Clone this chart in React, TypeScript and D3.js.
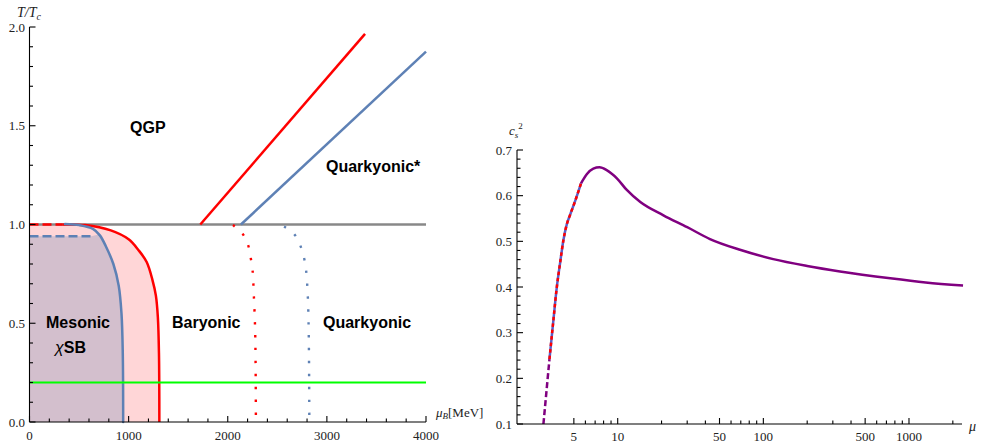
import React from 'react';
import * as d3 from 'd3';

// ---- left panel: phase diagram (mu_B in MeV, T/Tc) ----
const redBoundary: [number, number][] = [
  [330, 1.0], [560, 0.997], [820, 0.97], [1000, 0.925], [1100, 0.87], [1182, 0.81],
  [1240, 0.72], [1275, 0.64], [1295, 0.53], [1306, 0.35], [1310, 0],
];
const blueBoundary: [number, number][] = [
  [358, 1.003], [500, 0.997], [640, 0.978], [710, 0.945], [770, 0.89], [846, 0.8],
  [900, 0.69], [928, 0.55], [941, 0.35], [945, 0],
];
const redDashed: [number, number][] = [[0, 1.0], [330, 1.0]];
const blueDashed: [number, number][] = [[0, 0.94], [620, 0.94]];
const redDotted: [number, number][] = [
  [2052, 0.997], [2147, 0.955], [2205, 0.896], [2232, 0.83], [2250, 0.77],
  [2263, 0.643], [2277, 0.45], [2284, 0],
];
const blueDotted: [number, number][] = [
  [2568, 0.99], [2672, 0.95], [2730, 0.896], [2770, 0.83], [2790, 0.77],
  [2807, 0.643], [2817, 0.45], [2823, 0],
];
const redLine: [number, number][] = [[1723, 1.0], [3385, 1.965]];
const blueLine: [number, number][] = [[2133, 1.0], [4000, 1.875]];
const tcLine: [number, number][] = [[0, 1.0], [4000, 1.0]];
const greenLine: [number, number][] = [[0, 0.2], [4000, 0.2]];
const leftXTicks = [0, 1000, 2000, 3000, 4000];
const leftYTicks = [0, 0.5, 1.0, 1.5, 2.0];

// ---- right panel: speed of sound ----
const csLow: [number, number][] = [[3.09, 0.1], [3.4, 0.242]];
const csOverlay: [number, number][] = [
  [3.4, 0.242], [3.62, 0.328], [3.81, 0.397], [4.02, 0.452], [4.24, 0.503],
  [4.47, 0.537], [4.71, 0.558], [5.1, 0.588], [5.6, 0.627],
];
const csMain: [number, number][] = [
  [5.6, 0.627], [6.13, 0.647], [6.8, 0.659], [7.5, 0.662], [8.4, 0.656], [9.87, 0.638],
  [11.5, 0.613], [14.3, 0.586], [20.6, 0.557], [30, 0.531], [43, 0.505], [70, 0.481],
  [117, 0.461], [200, 0.446], [336, 0.434], [744, 0.419], [1300, 0.41], [2350, 0.403],
];
const rightXMajor = [5, 10, 50, 100, 500, 1000];
const rightXMinor = [6, 7, 8, 9, 20, 30, 40, 60, 70, 80, 90, 200, 300, 400, 600, 700, 800, 900, 2000];
const rightYTicks = [0.1, 0.2, 0.3, 0.4, 0.5, 0.6, 0.7];

const RED = '#ff0000';
const BLUE = '#5e81b5';
const PURPLE = '#800080';
const serif = 'Liberation Serif, DejaVu Serif, serif';
const sans = 'Liberation Sans, Arial, sans-serif';

export default function App() {
  const xL = d3.scaleLinear([0, 4000], [29.5, 426]);
  const yL = d3.scaleLinear([0, 2], [422, 27]);
  const xR = d3.scaleLog([2.035, 2312], [517, 962]);
  const yR = d3.scaleLinear([0.1, 0.7], [424, 150]);

  const lineL = d3.line<[number, number]>().x(d => xL(d[0])).y(d => yL(d[1]));
  const curveL = d3.line<[number, number]>().x(d => xL(d[0])).y(d => yL(d[1])).curve(d3.curveCatmullRom.alpha(0.5));
  const curveR = d3.line<[number, number]>().x(d => xR(d[0])).y(d => yR(d[1])).curve(d3.curveMonotoneX);

  // shaded regions: straight left edge, then follow the boundary curve down to T=0
  const corner = (top: number) => `M${xL(0)},${yL(0)}L${xL(0)},${yL(top)}`;
  const pinkArea = corner(1.0) + curveL(redBoundary)!.replace(/^M/, 'L') + 'Z';
  const purplePts: [number, number][] = [[620, 0.94], ...blueBoundary.filter(d => d[1] <= 0.945)];
  const purpleArea = corner(0.94) + curveL(purplePts)!.replace(/^M/, 'L') + 'Z';

  const leftMinorX = d3.range(0, 4001, 200).filter(v => v % 1000 !== 0);
  const leftMinorY = d3.range(0, 2.001, 0.1).filter(v => Math.abs(v * 2 - Math.round(v * 2)) > 1e-6);
  const rightMinorY = d3.range(0.1, 0.7001, 0.02).filter(v => Math.abs(v * 10 - Math.round(v * 10)) > 1e-6);

  return (
    <svg width={987} height={444} style={{ position: 'absolute', left: 0, top: 0, background: '#fff' }}>
      {/* left panel fills */}
      <path d={pinkArea} fill="#ffd6d7" stroke="none" />
      <path d={purpleArea} fill="#d3bfcd" stroke="none" />

      <path d={lineL(tcLine)!} stroke="#888" strokeWidth={2.5} fill="none" />
      <path d={lineL(redDashed)!} stroke={RED} strokeWidth={2.5} strokeDasharray="9 4" fill="none" />
      <path d={lineL(blueDashed)!} stroke={BLUE} strokeWidth={2.5} strokeDasharray="9 4" fill="none" />
      <path d={curveL(redBoundary)!} stroke={RED} strokeWidth={2.5} fill="none" />
      <path d={curveL(blueBoundary)!} stroke={BLUE} strokeWidth={2.5} strokeLinecap="round" fill="none" />
      <path d={curveL(redDotted)!} stroke={RED} strokeWidth={2.4} strokeDasharray="2.4 10.5" fill="none" />
      <path d={curveL(blueDotted)!} stroke={BLUE} strokeWidth={2.4} strokeDasharray="2.4 10.5" fill="none" />
      <path d={lineL(redLine)!} stroke={RED} strokeWidth={2.5} fill="none" />
      <path d={lineL(blueLine)!} stroke={BLUE} strokeWidth={2.5} fill="none" />
      <path d={lineL(greenLine)!} stroke="#00ff00" strokeWidth={2.2} fill="none" />

      {/* left axes */}
      <g stroke="#000" strokeWidth={1.1}>
        <line x1={xL(0)} x2={xL(4000)} y1={yL(0)} y2={yL(0)} />
        <line x1={xL(0)} x2={xL(0)} y1={yL(0)} y2={yL(2)} />
        {leftXTicks.map(t => <line key={'lx' + t} x1={xL(t)} x2={xL(t)} y1={yL(0)} y2={yL(0) - 6} />)}
        {leftMinorX.map(t => <line key={'lmx' + t} x1={xL(t)} x2={xL(t)} y1={yL(0)} y2={yL(0) - 3.5} />)}
        {leftYTicks.map(t => <line key={'ly' + t} x1={xL(0)} x2={xL(0) + 6} y1={yL(t)} y2={yL(t)} />)}
        {leftMinorY.map(t => <line key={'lmy' + t} x1={xL(0)} x2={xL(0) + 3.5} y1={yL(t)} y2={yL(t)} />)}
      </g>
      <g fontFamily={serif} fontSize={13} fill="#222">
        {leftXTicks.map(t => (
          <text key={'lxt' + t} x={xL(t)} y={440} textAnchor="middle">{t}</text>
        ))}
        {leftYTicks.map(t => (
          <text key={'lyt' + t} x={25} y={yL(t) + 4.5} textAnchor="end">{t.toFixed(1)}</text>
        ))}
        <text x={17} y={17} fontSize={14} fontStyle="italic">T/T<tspan fontSize={10} dy={3}>c</tspan></text>
        <text x={436} y={417} fontSize={13}>
          <tspan fontStyle="italic">μ</tspan><tspan fontStyle="italic" fontSize={9} dy={2}>B</tspan><tspan dy={-2}>[MeV]</tspan>
        </text>
      </g>

      {/* region labels */}
      <g fontFamily={sans} fontWeight="bold" fontSize={16} fill="#000">
        <text x={130} y={133}>QGP</text>
        <text x={326} y={172}>Quarkyonic*</text>
        <text x={46} y={328}>Mesonic</text>
        <text x={55} y={353}><tspan fontStyle="italic" fontWeight="normal">χ</tspan>SB</text>
        <text x={172} y={328}>Baryonic</text>
        <text x={323} y={328}>Quarkyonic</text>
      </g>

      {/* right panel curves */}
      <path d={curveR(csLow)!} stroke={PURPLE} strokeWidth={2.5} strokeDasharray="6 3" fill="none" />
      <path d={curveR(csOverlay)!} stroke="#5a5fc8" strokeWidth={2.5} fill="none" />
      <path d={curveR(csOverlay)!} stroke={RED} strokeWidth={2.5} strokeDasharray="3.5 3" fill="none" />
      <path d={curveR(csMain)!} stroke={PURPLE} strokeWidth={2.5} fill="none" />

      {/* right axes */}
      <g stroke="#000" strokeWidth={1.1}>
        <line x1={517} x2={962} y1={yR(0.1)} y2={yR(0.1)} />
        <line x1={517} x2={517} y1={yR(0.1)} y2={yR(0.7)} />
        {rightXMajor.map(t => <line key={'rx' + t} x1={xR(t)} x2={xR(t)} y1={yR(0.1)} y2={yR(0.1) - 6} />)}
        {rightXMinor.map(t => <line key={'rmx' + t} x1={xR(t)} x2={xR(t)} y1={yR(0.1)} y2={yR(0.1) - 3.5} />)}
        {rightYTicks.map(t => <line key={'ry' + t} x1={517} x2={523} y1={yR(t)} y2={yR(t)} />)}
        {rightMinorY.map(t => <line key={'rmy' + t} x1={517} x2={520.5} y1={yR(t)} y2={yR(t)} />)}
      </g>
      <g fontFamily={serif} fontSize={13} fill="#222">
        {rightXMajor.map(t => (
          <text key={'rxt' + t} x={xR(t)} y={441} textAnchor="middle">{t}</text>
        ))}
        {rightYTicks.map(t => (
          <text key={'ryt' + t} x={512} y={yR(t) + 4.5} textAnchor="end">{t.toFixed(1)}</text>
        ))}
        <text x={509} y={135} fontSize={13} fontStyle="italic">
          c<tspan fontSize={9} dy={3}>s</tspan><tspan fontSize={9} fontStyle="normal" dy={-9}>2</tspan>
        </text>
        <text x={969} y={431} fontStyle="italic" fontSize={14}>μ</text>
      </g>
    </svg>
  );
}
